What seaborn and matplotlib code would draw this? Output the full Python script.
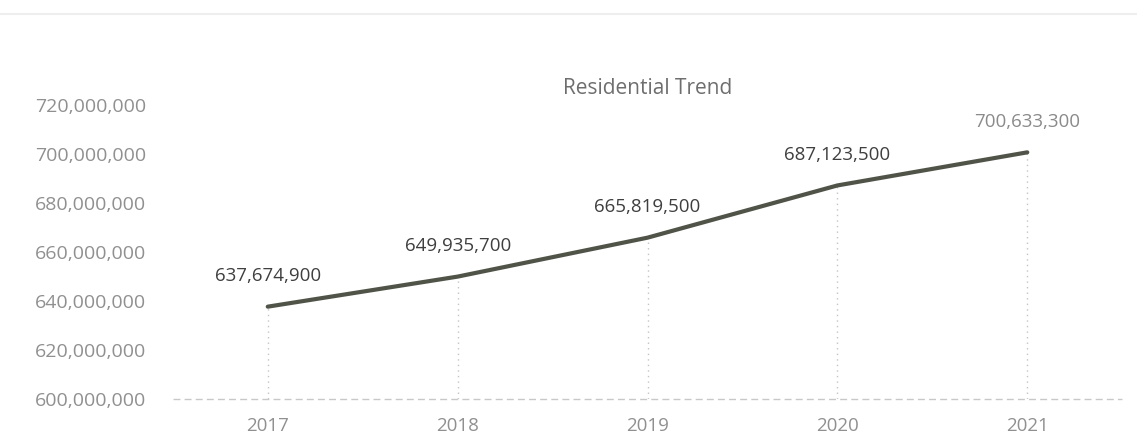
import matplotlib
matplotlib.use("Agg")
import matplotlib.pyplot as plt
import seaborn as sns
import pandas as pd
from matplotlib.ticker import FuncFormatter, MultipleLocator

years = [2017, 2018, 2019, 2020, 2021]
values = [637674900, 649935700, 665819500, 687123500, 700633300]
label_colors = ["#3f3f3f", "#3f3f3f", "#3f3f3f", "#3f3f3f", "#8a8a8a"]
title = "Residential Trend"

sns.set_theme(style="white")
plt.rcParams["font.family"] = ["Open Sans", "DejaVu Sans"]

df = pd.DataFrame({"Year": years, "Value": values})

fig = plt.figure(figsize=(11.37, 4.43), dpi=100)
ax = fig.add_axes([0.152, 0.0993, 0.835, 0.664])

sns.lineplot(data=df, x="Year", y="Value", ax=ax, color="#505448", linewidth=3.0)

# drop lines
for x, y in zip(years, values):
    ax.plot([x, x], [600000000, y], color="#c4c4c4", linewidth=1.0,
            linestyle=(0, (1, 3)), zorder=1)

# baseline
ax.axhline(600000000, color="#c8c8c8", linewidth=1.0, linestyle=(0, (5, 3)),
           zorder=1, clip_on=False)

for x, y, c in zip(years, values, label_colors):
    ax.annotate(f"{y:,}", (x, y), xytext=(0, 22), textcoords="offset points",
                ha="center", va="center", fontsize=13.5, color=c)

ax.set_xlim(2016.5, 2021.5)
ax.set_ylim(600000000, 720000000)
ax.yaxis.set_major_locator(MultipleLocator(20000000))
ax.yaxis.set_major_formatter(FuncFormatter(lambda v, p: f"{int(v):,}"))
ax.set_xticks(years)
ax.set_xticklabels([str(y) for y in years])
ax.tick_params(axis="y", length=0, labelsize=14, labelcolor="#909090", pad=19)
ax.tick_params(axis="x", length=0, labelsize=13.5, labelcolor="#909090", pad=13)
ax.set_xlabel("")
ax.set_ylabel("")
for s in ax.spines.values():
    s.set_visible(False)
ax.grid(False)

fig.text(0.57, 0.80, title, ha="center", va="center", fontsize=15, color="#6e6e6e")
fig.add_artist(plt.Line2D([0.0, 1.0], [0.968, 0.968], color="#eeeeee", linewidth=1.5,
                          transform=fig.transFigure))

fig.savefig("out.png", dpi=100)
